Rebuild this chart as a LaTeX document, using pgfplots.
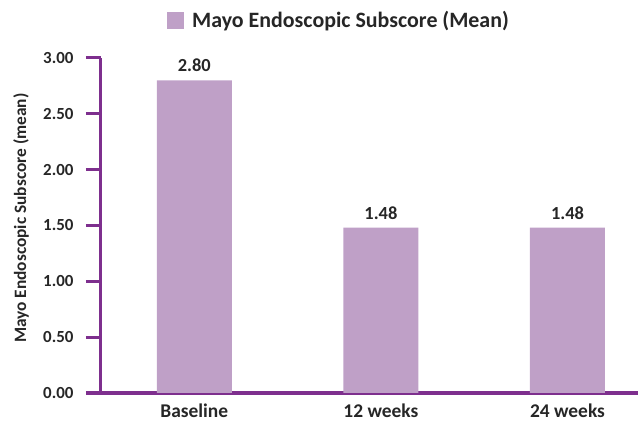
\documentclass[border=0pt]{standalone}
\usepackage{fontspec}
\setmainfont{Carlito}
\usepackage{pgfplots}
\pgfplotsset{compat=1.18}
\definecolor{axpurple}{HTML}{7E2F8E}
\definecolor{barpurple}{HTML}{BFA0C7}
\begin{document}
\begin{tikzpicture}
\begin{axis}[
  name=ax,
  scale only axis, width=537bp, height=335bp,
  xmin=-0.5, xmax=2.378, ymin=0, ymax=3,
  axis lines*=left,
  axis line style={draw=axpurple, line width=3bp},
  ytick={0,0.5,1,1.5,2,2.5,3},
  yticklabel style={xshift=-9bp, font=\bfseries\fontsize{17}{17}\selectfont, text=black!85,
    /pgf/number format/.cd, fixed, fixed zerofill, precision=2, assume math mode=true},
  ytick style={draw=axpurple, line width=3bp},
  tick align=outside, major tick length=15bp,
  xtick={0,1,2}, xticklabels={Baseline,12 weeks,24 weeks},
  xtick style={draw=none},
  xticklabel style={yshift=8bp, font=\bfseries\fontsize{19.5}{19.5}\selectfont, text=black!85},
  ylabel={Mayo Endoscopic Subscore (mean)},
  ylabel style={at={(axis description cs:-0.149,0.522)}, anchor=center,
    font=\bfseries\fontsize{17.4}{17.4}\selectfont, text=black!85},
  ybar, bar width=75bp,
  nodes near coords,
  nodes near coords style={yshift=5bp, font=\bfseries\fontsize{18.5}{18.5}\selectfont, text=black!85,
    /pgf/number format/.cd, fixed, fixed zerofill, precision=2, assume math mode=true},
  legend style={at={(axis description cs:0.1229,1)}, anchor=west, yshift=37.5bp, draw=none,
    inner sep=0pt, font=\bfseries\fontsize{22}{22}\selectfont, text=black!85},
  legend image code/.code={\fill[barpurple] (0bp,-8.5bp) rectangle (17bp,8.5bp); \path (23bp,0bp);},
]
\addplot[fill=barpurple, draw=none] coordinates {(0,2.80) (1,1.48) (2,1.48)};
\addlegendentry{Mayo Endoscopic Subscore (Mean)}
\end{axis}
\pgfresetboundingbox
\path[use as bounding box] ([xshift=-101bp,yshift=-29bp]ax.south west) rectangle ([xshift=2bp,yshift=58bp]ax.north east);
\end{tikzpicture}
\end{document}
